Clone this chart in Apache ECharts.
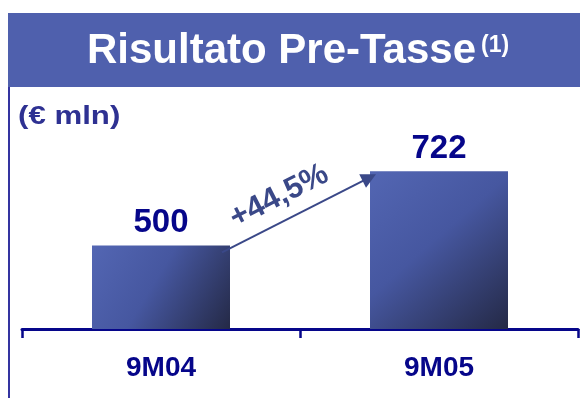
<!DOCTYPE html>
<html>
<head>
<meta charset="utf-8">
<script src="https://cdn.jsdelivr.net/npm/echarts@6/dist/echarts.min.js"></script>
<style>
html,body{margin:0;padding:0;background:#fff;}
#main{width:580px;height:398px;}
</style>
</head>
<body>
<div id="main"></div>
<script>
// ---- data ----
const categories = ['9M04', '9M05'];
const values = [500, 722];
const growthLabel = '+44,5%';
const titleText = 'Risultato Pre-Tasse';
const titleNote = '(1)';
const unitText = '(€ mln)';

const FONT = '"Liberation Sans", Arial, Helvetica, sans-serif';
const NAVY = '#06068a';
const ARROW = '#3a4888';

const chart = echarts.init(document.getElementById('main'), null, {renderer: 'canvas'});

const barGradient = new echarts.graphic.LinearGradient(0, 0, 1, 1, [
  {offset: 0, color: '#5366b3'},
  {offset: 0.45, color: '#4657a0'},
  {offset: 1, color: '#242946'}
]);

const option = {
  animation: false,
  backgroundColor: '#ffffff',
  grid: {left: 22, right: 2, top: 95, bottom: 69, containLabel: false},
  xAxis: {
    type: 'category',
    data: categories,
    boundaryGap: true,
    axisLine: {show: true, lineStyle: {color: NAVY, width: 3}},
    axisTick: {show: true, length: 9, inside: false, lineStyle: {color: NAVY, width: 2.5}},
    axisLabel: {
      show: true, margin: 25, color: NAVY, fontFamily: FONT,
      fontWeight: 'bold', fontSize: 28
    },
    splitLine: {show: false}
  },
  yAxis: {
    type: 'value', min: 250, max: 950, show: false,
    splitLine: {show: false}
  },
  series: [{
    type: 'bar',
    data: values,
    barWidth: 138,
    itemStyle: {color: barGradient},
    label: {
      show: true, position: 'top', distance: 6,
      color: NAVY, fontFamily: FONT, fontWeight: 'bold', fontSize: 33
    }
  }]
};
chart.setOption(option);

// ---- annotations computed from the chart's own scales ----
const p0 = chart.convertToPixel({seriesIndex: 0}, [0, values[0]]);
const p1 = chart.convertToPixel({seriesIndex: 0}, [1, values[1]]);
const half = 69;
const start = [p0[0] + half - 8, p0[1] + 7];
const end = [p1[0] - half + 6, p1[1] + 3];
const dx = end[0] - start[0], dy = end[1] - start[1];
const len = Math.sqrt(dx * dx + dy * dy);
const u = [dx / len, dy / len];
const nUp = [u[1], -u[0]];
const headLen = 15, headHalf = 7.5;
const base = [end[0] - u[0] * headLen, end[1] - u[1] * headLen];
const mid = [(start[0] + end[0]) / 2, (start[1] + end[1]) / 2];
const textPos = [mid[0] - u[0] * 10 + nUp[0] * 24, mid[1] - u[1] * 10 + nUp[1] * 24];
const angle = Math.atan2(-dy, dx);

chart.setOption({
  graphic: [
    {type: 'rect', id: 'band', shape: {x: 8, y: 13, width: 572, height: 74}, style: {fill: '#4f60ad'}, z: 1},
    {type: 'line', id: 'vline', shape: {x1: 9, y1: 87, x2: 9, y2: 398}, style: {stroke: '#3434a0', lineWidth: 2}, z: 1},
    {
      type: 'text', id: 'title', x: 87, y: 51, scaleX: 1.0, z: 3,
      style: {
        text: titleText, fill: '#ffffff', font: 'bold 42px ' + FONT,
        align: 'left', verticalAlign: 'middle',
        textShadowColor: '#15183a', textShadowOffsetX: 2.5, textShadowOffsetY: 2.5, textShadowBlur: 0
      }
    },
    {
      type: 'text', id: 'note', x: 481, y: 46, z: 3,
      style: {
        text: titleNote, fill: '#ffffff', font: 'bold 23px ' + FONT,
        align: 'left', verticalAlign: 'middle',
        textShadowColor: '#15183a', textShadowOffsetX: 2, textShadowOffsetY: 2, textShadowBlur: 0
      }
    },
    {
      type: 'text', id: 'unit', x: 18, y: 117, scaleX: 1.2, z: 3,
      style: {
        text: unitText, fill: '#2e3192', font: 'bold 26px ' + FONT,
        align: 'left', verticalAlign: 'middle'
      }
    },
    {
      type: 'line', id: 'arrowLine', z: 4,
      shape: {x1: start[0], y1: start[1], x2: base[0] + u[0] * 2, y2: base[1] + u[1] * 2},
      style: {stroke: ARROW, lineWidth: 2}
    },
    {
      type: 'polygon', id: 'arrowHead', z: 4,
      shape: {points: [
        end,
        [base[0] + nUp[0] * headHalf, base[1] + nUp[1] * headHalf],
        [base[0] - nUp[0] * headHalf, base[1] - nUp[1] * headHalf]
      ]},
      style: {fill: ARROW}
    },
    {
      type: 'text', id: 'growth', x: textPos[0], y: textPos[1], rotation: angle, z: 4,
      style: {
        text: growthLabel, fill: ARROW, font: 'bold 31px ' + FONT,
        align: 'center', verticalAlign: 'middle'
      }
    }
  ]
});
</script>
</body>
</html>
